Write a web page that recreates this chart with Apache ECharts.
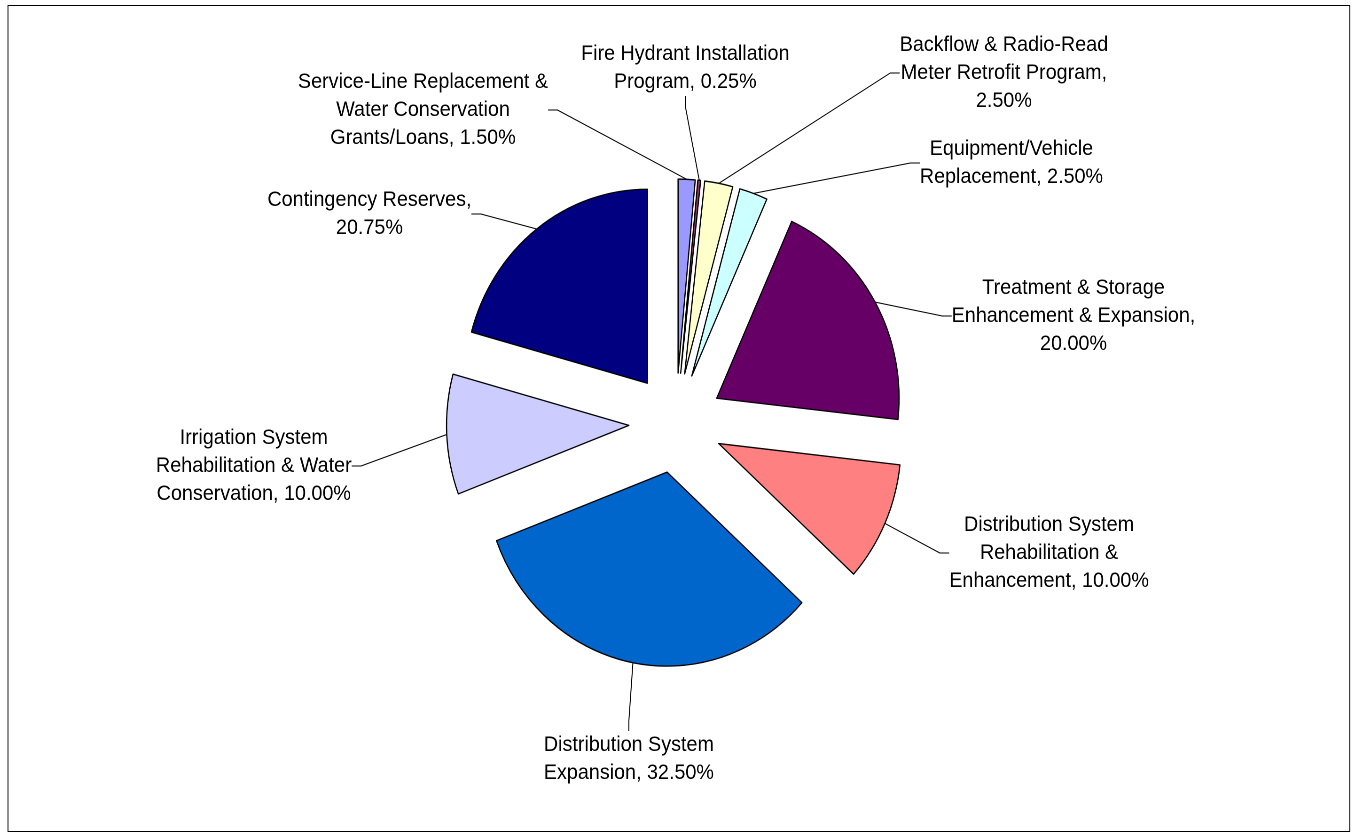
<!DOCTYPE html>
<html>
<head>
<meta charset="utf-8">
<script src="https://cdn.jsdelivr.net/npm/echarts@6/dist/echarts.min.js"></script>
<style>
html,body{margin:0;padding:0;background:#fff;overflow:hidden;}
#wrap{width:1358px;height:840px;overflow:hidden;}
#chart{width:1445px;height:840px;transform:scaleX(0.94);transform-origin:0 0;}
</style>
</head>
<body>
<div id="wrap"><div id="chart"></div></div>
<script>
// ---- data ----
var categories = [
  'Service-Line Replacement &\nWater Conservation\nGrants/Loans',
  'Fire Hydrant Installation\nProgram',
  'Backflow & Radio-Read\nMeter Retrofit Program',
  'Equipment/Vehicle\nReplacement',
  'Treatment & Storage\nEnhancement & Expansion',
  'Distribution System\nRehabilitation &\nEnhancement',
  'Distribution System\nExpansion',
  'Irrigation System\nRehabilitation & Water\nConservation',
  'Contingency Reserves'
];
var values = [1.50, 0.25, 2.50, 2.50, 20.00, 10.00, 32.50, 10.00, 20.75];
var valueSeparators = [' ', ' ', '\n', ' ', '\n', ' ', ' ', ' ', '\n'];
var colors = ['#9999FF', '#993366', '#FFFFCC', '#CCFFFF', '#660066', '#FF8080', '#0066CC', '#CCCCFF', '#000080'];
// label block centres (chart coordinates, before the horizontal 0.94 squeeze)
var labelPos = [
  [450, 110], [729, 68], [1068, 73], [1076, 163], [1142, 316],
  [1116, 553], [669, 759], [270, 466], [393, 214]
];

var CX = 719, CY = 423, R = 194, EXPLODE = 50;
var total = values.reduce(function (a, b) { return a + b; }, 0);

var chart = echarts.init(document.getElementById('chart'), null, {renderer: 'canvas', devicePixelRatio: 2});

// one pie series per exploded slice: every series holds all the data (so the
// library computes the angles), only its own slice is painted.
var series = [];
var cum = 0;
values.forEach(function (v, k) {
  var mid = (cum + v / 2) / total * 2 * Math.PI;
  cum += v;
  var center = [CX + EXPLODE * Math.sin(mid), CY - EXPLODE * Math.cos(mid)];
  series.push({
    type: 'pie',
    center: center,
    radius: R,
    startAngle: 90,
    clockwise: true,
    selectedMode: false,
    avoidLabelOverlap: false,
    emphasis: { disabled: true, scale: false },
    data: categories.map(function (c, i) {
      var own = i === k;
      return {
        name: c,
        value: values[i],
        itemStyle: own ? { color: colors[i], borderColor: '#000', borderWidth: 1.3 }
                       : { color: 'rgba(0,0,0,0)', borderWidth: 0 },
        label: { show: own },
        labelLine: { show: own }
      };
    }),
    label: {
      position: 'outside',
      alignTo: 'none',
      fontFamily: 'Liberation Sans, Arial, sans-serif',
      fontSize: 21,
      lineHeight: 28,
      color: '#000',
      align: 'center',
      formatter: function (p) {
        return p.name + ',' + valueSeparators[p.dataIndex] + p.value.toFixed(2) + '%';
      }
    },
    labelLine: {
      length: 10,
      length2: 10,
      smooth: false,
      lineStyle: { color: '#000', width: 1 }
    },
    labelLayout: function (params) {
      var p = labelPos[params.dataIndex];
      return { x: p[0], y: p[1], align: 'center', verticalAlign: 'middle' };
    }
  });
});

chart.setOption({
  animation: false,
  backgroundColor: '#ffffff',
  graphic: [{
    type: 'rect',
    shape: { x: 8.5, y: 5.5, width: 1427.5, height: 826 },
    style: { fill: 'none', stroke: '#000', lineWidth: 1 },
    silent: true
  }],
  series: series
});
</script>
</body>
</html>
